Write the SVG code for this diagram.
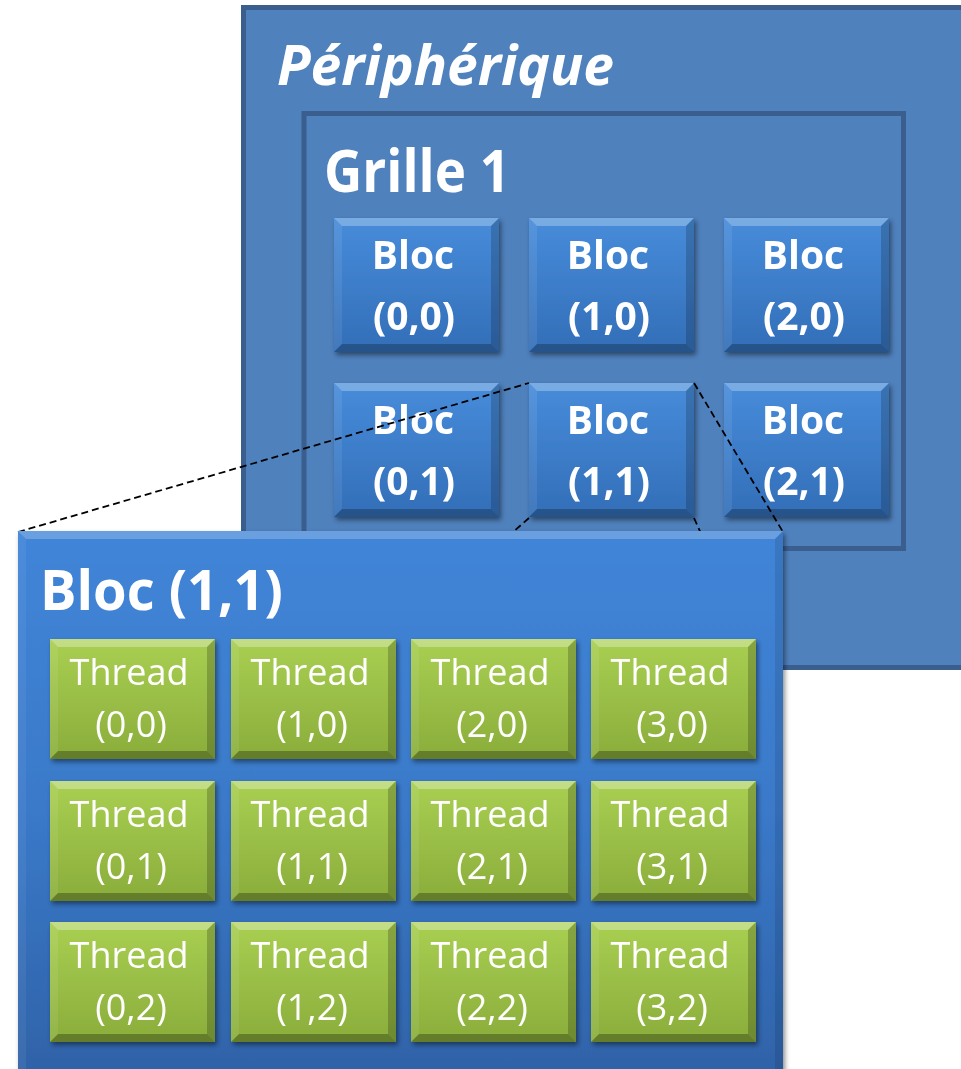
<svg xmlns="http://www.w3.org/2000/svg" xmlns:xlink="http://www.w3.org/1999/xlink" width="961" height="1069" viewBox="0 0 961 1069">
<defs>
  <style>
    .lbl{font-family:"Open Sans","Liberation Sans",sans-serif;fill:#ffffff;text-anchor:middle}
    .bold{font-weight:bold}
    .title{font-family:"Open Sans","Liberation Sans",sans-serif;fill:#ffffff;font-weight:bold}
    .frame{fill:#4f81bd;stroke:#3a5f8f;stroke-width:5}
    .dash{fill:none;stroke:#000000;stroke-width:1.8;stroke-dasharray:7 4}
  </style>
  <linearGradient id="gBloc" x1="0" y1="0" x2="0" y2="1">
    <stop offset="0" stop-color="#478cda"/>
    <stop offset="1" stop-color="#336eb8"/>
  </linearGradient>
  <linearGradient id="gBig" x1="0" y1="0" x2="0" y2="1">
    <stop offset="0" stop-color="#4185d8"/>
    <stop offset="0.5" stop-color="#3a79c9"/>
    <stop offset="1" stop-color="#2e61a6"/>
  </linearGradient>
  <linearGradient id="gThread" x1="0" y1="0" x2="0" y2="1">
    <stop offset="0" stop-color="#a9cf52"/>
    <stop offset="1" stop-color="#8aad3b"/>
  </linearGradient>
  <filter id="shadow" x="-10%" y="-10%" width="125%" height="125%">
    <feDropShadow dx="2" dy="3" stdDeviation="2.5" flood-color="#000000" flood-opacity="0.45"/>
  </filter>
  <g id="blocShape">
    <rect x="0" y="0" width="165" height="134" fill="url(#gBloc)"/>
    <polygon points="0,0 165,0 157,8 8,8" fill="#ffffff" fill-opacity="0.28"/>
    <polygon points="0,0 8,8 8,126 0,134" fill="#ffffff" fill-opacity="0.08"/>
    <polygon points="165,0 165,134 157,126 157,8" fill="#000000" fill-opacity="0.18"/>
    <polygon points="0,134 165,134 157,126 8,126" fill="#000000" fill-opacity="0.25"/>
  </g>
  <g id="threadShape">
    <rect x="0" y="0" width="165" height="120" fill="url(#gThread)"/>
    <polygon points="0,0 165,0 157,8 8,8" fill="#ffffff" fill-opacity="0.3"/>
    <polygon points="0,0 8,8 8,112 0,120" fill="#ffffff" fill-opacity="0.08"/>
    <polygon points="165,0 165,120 157,112 157,8" fill="#000000" fill-opacity="0.2"/>
    <polygon points="0,120 165,120 157,112 8,112" fill="#000000" fill-opacity="0.28"/>
  </g>
</defs>

<g id="peripherique">
  <rect class="frame" x="243.5" y="7.5" width="730" height="660"/>
  <text class="title" x="277" y="85" font-size="56" font-style="italic" textLength="337" lengthAdjust="spacingAndGlyphs">Périphérique</text>
</g>

<g id="grille1">
  <rect class="frame" x="304" y="113.5" width="599.5" height="435"/>
  <text class="title" x="324" y="192" font-size="59" textLength="186" lengthAdjust="spacingAndGlyphs">Grille 1</text>
</g>

<g id="bloc-0-0" filter="url(#shadow)">
  <use xlink:href="#blocShape" x="334" y="218"/>
  <text class="lbl bold" font-size="39"><tspan x="413" y="269">Bloc</tspan><tspan x="414" y="330">(0,0)</tspan></text>
</g>
<g id="bloc-1-0" filter="url(#shadow)">
  <use xlink:href="#blocShape" x="529" y="218"/>
  <text class="lbl bold" font-size="39"><tspan x="608" y="269">Bloc</tspan><tspan x="609" y="330">(1,0)</tspan></text>
</g>
<g id="bloc-2-0" filter="url(#shadow)">
  <use xlink:href="#blocShape" x="724" y="218"/>
  <text class="lbl bold" font-size="39"><tspan x="803" y="269">Bloc</tspan><tspan x="804" y="330">(2,0)</tspan></text>
</g>
<g id="bloc-0-1" filter="url(#shadow)">
  <use xlink:href="#blocShape" x="334" y="383"/>
  <text class="lbl bold" font-size="39"><tspan x="413" y="434">Bloc</tspan><tspan x="414" y="495">(0,1)</tspan></text>
</g>
<g id="bloc-1-1" filter="url(#shadow)">
  <use xlink:href="#blocShape" x="529" y="383"/>
  <text class="lbl bold" font-size="39"><tspan x="608" y="434">Bloc</tspan><tspan x="609" y="495">(1,1)</tspan></text>
</g>
<g id="bloc-2-1" filter="url(#shadow)">
  <use xlink:href="#blocShape" x="724" y="383"/>
  <text class="lbl bold" font-size="39"><tspan x="803" y="434">Bloc</tspan><tspan x="804" y="495">(2,1)</tspan></text>
</g>

<g id="connectors">
  <line class="dash" x1="18" y1="532" x2="529" y2="383"/>
  <line class="dash" x1="694" y1="383" x2="783" y2="532"/>
  <line class="dash" x1="529" y1="518" x2="401" y2="630"/>
  <line class="dash" x1="694" y1="518" x2="735" y2="608"/>
</g>

<g id="bloc-detail">
  <g filter="url(#shadow)">
    <rect x="18" y="531" width="765" height="560" fill="url(#gBig)"/>
    <polygon points="18,531 783,531 775,539 26,539" fill="#ffffff" fill-opacity="0.22"/>
    <polygon points="783,531 783,1091 775,1083 775,539" fill="#000000" fill-opacity="0.1"/>
    <polygon points="18,531 26,539 26,1083 18,1091" fill="#ffffff" fill-opacity="0.06"/>
  </g>
  <text class="title" x="40" y="610" font-size="56" textLength="243" lengthAdjust="spacingAndGlyphs">Bloc (1,1)</text>
</g>

<g id="thread-0-0" filter="url(#shadow)"><use xlink:href="#threadShape" x="50" y="639"/><text class="lbl" font-size="36"><tspan x="129" y="685">Thread</tspan><tspan x="131" y="737">(0,0)</tspan></text></g>
<g id="thread-1-0" filter="url(#shadow)"><use xlink:href="#threadShape" x="231" y="639"/><text class="lbl" font-size="36"><tspan x="310" y="685">Thread</tspan><tspan x="312" y="737">(1,0)</tspan></text></g>
<g id="thread-2-0" filter="url(#shadow)"><use xlink:href="#threadShape" x="411" y="639"/><text class="lbl" font-size="36"><tspan x="490" y="685">Thread</tspan><tspan x="492" y="737">(2,0)</tspan></text></g>
<g id="thread-3-0" filter="url(#shadow)"><use xlink:href="#threadShape" x="591" y="639"/><text class="lbl" font-size="36"><tspan x="670" y="685">Thread</tspan><tspan x="672" y="737">(3,0)</tspan></text></g>

<g id="thread-0-1" filter="url(#shadow)"><use xlink:href="#threadShape" x="50" y="781"/><text class="lbl" font-size="36"><tspan x="129" y="827">Thread</tspan><tspan x="131" y="879">(0,1)</tspan></text></g>
<g id="thread-1-1" filter="url(#shadow)"><use xlink:href="#threadShape" x="231" y="781"/><text class="lbl" font-size="36"><tspan x="310" y="827">Thread</tspan><tspan x="312" y="879">(1,1)</tspan></text></g>
<g id="thread-2-1" filter="url(#shadow)"><use xlink:href="#threadShape" x="411" y="781"/><text class="lbl" font-size="36"><tspan x="490" y="827">Thread</tspan><tspan x="492" y="879">(2,1)</tspan></text></g>
<g id="thread-3-1" filter="url(#shadow)"><use xlink:href="#threadShape" x="591" y="781"/><text class="lbl" font-size="36"><tspan x="670" y="827">Thread</tspan><tspan x="672" y="879">(3,1)</tspan></text></g>

<g id="thread-0-2" filter="url(#shadow)"><use xlink:href="#threadShape" x="50" y="922"/><text class="lbl" font-size="36"><tspan x="129" y="968">Thread</tspan><tspan x="131" y="1020">(0,2)</tspan></text></g>
<g id="thread-1-2" filter="url(#shadow)"><use xlink:href="#threadShape" x="231" y="922"/><text class="lbl" font-size="36"><tspan x="310" y="968">Thread</tspan><tspan x="312" y="1020">(1,2)</tspan></text></g>
<g id="thread-2-2" filter="url(#shadow)"><use xlink:href="#threadShape" x="411" y="922"/><text class="lbl" font-size="36"><tspan x="490" y="968">Thread</tspan><tspan x="492" y="1020">(2,2)</tspan></text></g>
<g id="thread-3-2" filter="url(#shadow)"><use xlink:href="#threadShape" x="591" y="922"/><text class="lbl" font-size="36"><tspan x="670" y="968">Thread</tspan><tspan x="672" y="1020">(3,2)</tspan></text></g>
</svg>
